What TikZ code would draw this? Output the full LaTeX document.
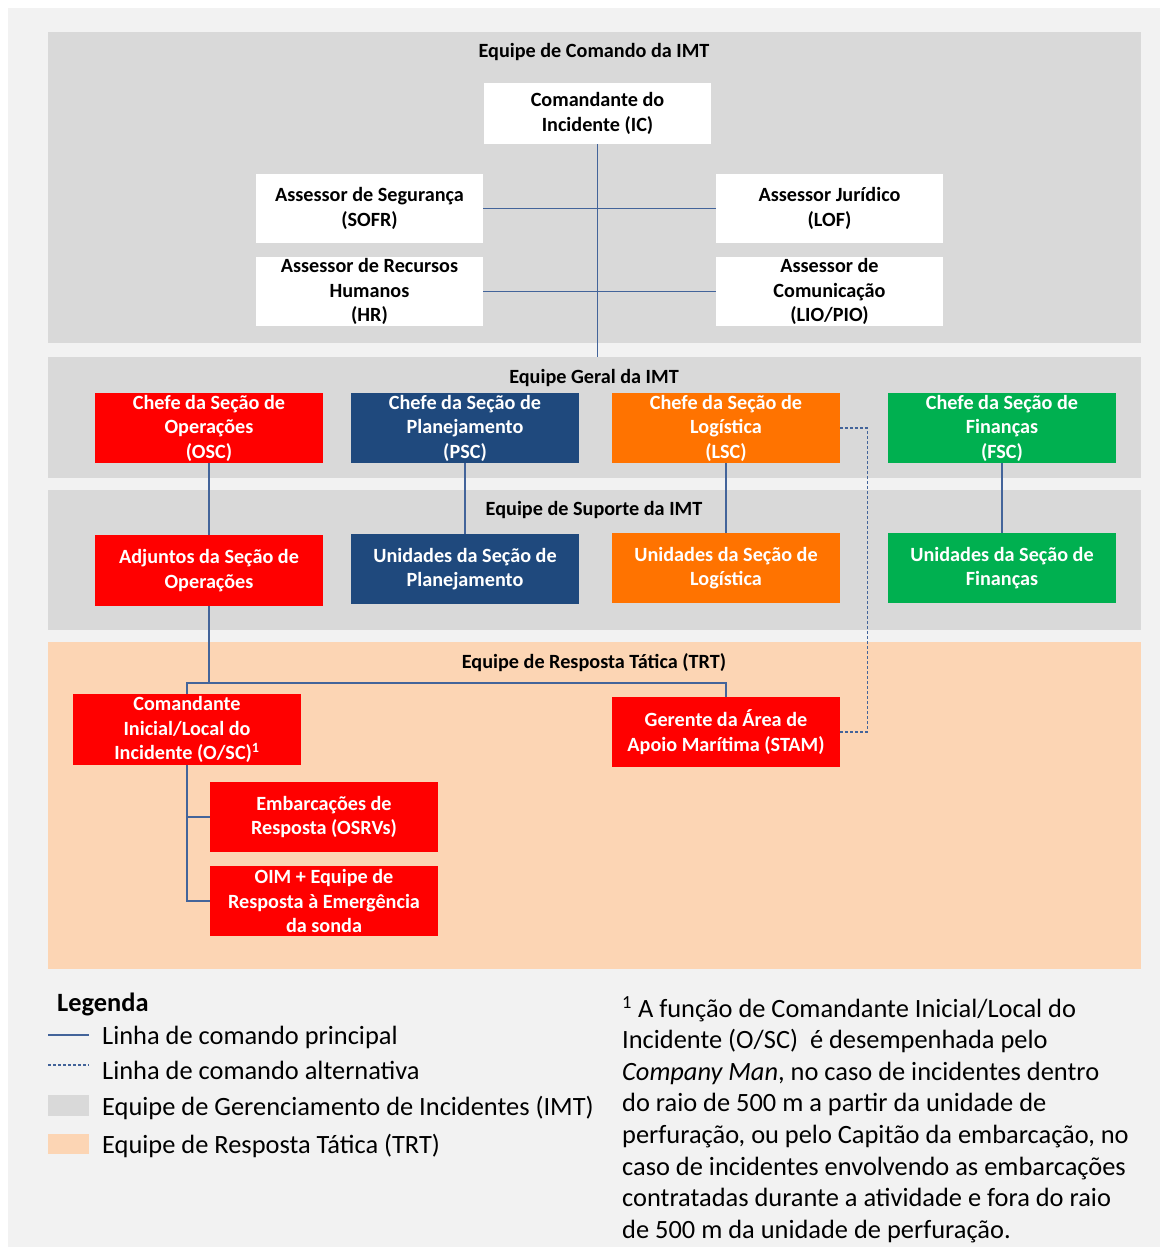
\documentclass[tikz,border=0pt]{standalone}
\usepackage{fontspec}
\setmainfont{Carlito}
\definecolor{pagebg}{HTML}{F2F2F2}
\definecolor{panelgray}{HTML}{D9D9D9}
\definecolor{peach}{HTML}{FCD5B4}
\definecolor{cred}{HTML}{FF0000}
\definecolor{cblue}{HTML}{1F497D}
\definecolor{corange}{HTML}{FF7300}
\definecolor{cgreen}{HTML}{00B050}
\definecolor{linecol}{HTML}{43649A}
\tikzset{
  panel/.style={fill=panelgray, draw=none, anchor=north west, inner sep=0pt},
  trtpanel/.style={fill=peach, draw=none, anchor=north west, inner sep=0pt},
  boxbase/.style={draw=none, inner sep=0pt, align=center, minimum width=228, minimum height=70,
    font=\fontsize{20.2}{24.5}\selectfont\bfseries},
  wbox/.style={boxbase, fill=white, text=black},
  cbox/.style={boxbase, fill=#1, text=white},
  ptitle/.style={font=\fontsize{20.2}{24}\selectfont\bfseries, inner sep=0pt},
  conn/.style={draw=linecol, line width=1.3pt},
  altconn/.style={draw=linecol, line width=1.1pt, dash pattern=on 3pt off 2pt},
  legtext/.style={font=\fontsize{26.4}{30}\selectfont, anchor=west, inner sep=0pt},
}
\begin{document}
\begin{tikzpicture}[x=1pt,y=-1pt]
\useasboundingbox (0,0) rectangle (1160,1247);
\fill[white] (0,0) rectangle (1160,1247);
\fill[pagebg] (8,8) rectangle (1160,1247);

% panels
\node[panel, minimum width=1093, minimum height=311] (pcmd) at (48,32) {};
\node[panel, minimum width=1093, minimum height=121] (pgeral) at (48,357) {};
\node[panel, minimum width=1093, minimum height=140] (psup) at (48,490) {};
\node[trtpanel, minimum width=1093, minimum height=327] (ptrt) at (48,642) {};

% panel titles
\node[ptitle] (tcmd) at (594,52) {Equipe de Comando da IMT};
\node[ptitle] (tgeral) at (594,378) {Equipe Geral da IMT};
\node[ptitle] (tsup) at (594,510) {Equipe de Suporte da IMT};
\node[ptitle] (ttrt) at (594,663) {Equipe de Resposta Tática (TRT)};

% command team
\node[wbox, minimum width=227, minimum height=61] (ic) at (597.5,113.5) {Comandante do\\Incidente (IC)};
\node[wbox, minimum width=227, minimum height=69] (sofr) at (369.5,208.5) {Assessor de Segurança\\(SOFR)};
\node[wbox, minimum width=227, minimum height=69] (lof) at (829.5,208.5) {Assessor Jurídico\\(LOF)};
\node[wbox, minimum width=227, minimum height=69] (hr) at (369.5,291.5) {Assessor de Recursos\\Humanos\\(HR)};
\node[wbox, minimum width=227, minimum height=69] (lio) at (829.5,291.5) {Assessor de\\Comunicação\\(LIO/PIO)};

% general team
\node[cbox=cred] (osc) at (209,428) {Chefe da Seção de\\Operações\\(OSC)};
\node[cbox=cblue] (psc) at (465,428) {Chefe da Seção de\\Planejamento\\(PSC)};
\node[cbox=corange] (lsc) at (726,428) {Chefe da Seção de\\Logística\\(LSC)};
\node[cbox=cgreen] (fsc) at (1002,428) {Chefe da Seção de\\Finanças\\(FSC)};

% support team
\node[cbox=cred, minimum height=71] (adj) at (209,570.5) {Adjuntos da Seção de\\Operações};
\node[cbox=cblue] (upl) at (465,569) {Unidades da Seção de\\Planejamento};
\node[cbox=corange] (ulog) at (726,568) {Unidades da Seção de\\Logística};
\node[cbox=cgreen] (ufin) at (1002,568) {Unidades da Seção de\\Finanças};

% TRT
\node[cbox=cred, minimum height=71] (osl) at (187,729.5) {Comandante\\Inicial/Local do\\Incidente (O/SC)\textsuperscript{1}};
\node[cbox=cred] (stam) at (726,732) {Gerente da Área de\\Apoio Marítima (STAM)};
\node[cbox=cred] (osrv) at (324,817) {Embarcações de\\Resposta (OSRVs)};
\node[cbox=cred] (oim) at (324,901) {OIM + Equipe de\\Resposta à Emergência\\da sonda};

% connectors
\coordinate (icdown) at (597.5,357);
\draw[conn] (ic.south) -- (icdown);
\draw[conn] (sofr.east) -- (lof.west);
\draw[conn] (hr.east) -- (lio.west);
\draw[conn] (osc.south) -- (adj.north);
\draw[conn] (psc.south) -- (upl.north);
\draw[conn] (lsc.south) -- (ulog.north);
\draw[conn] (fsc.south) -- (ufin.north);
\coordinate (tj) at (209,683);
\draw[conn] (adj.south) -- (tj);
\draw[conn] (osl.north) |- (tj) -| (stam.north);
\draw[conn] (osl.south) |- (osrv.west);
\draw[conn] (osl.south) |- (oim.west);
\draw[altconn] (lsc.east) -- ++(27,0) |- (stam.east);

% legend
\node[font=\fontsize{26.4}{30}\selectfont\bfseries, anchor=west, inner sep=0pt] (leg) at (57,1004) {Legenda};
\coordinate (l1a) at (48,1035); \coordinate (l1b) at (89,1035);
\draw[conn] (l1a) -- (l1b);
\node[legtext] (lt1) at (102,1037) {Linha de comando principal};
\coordinate (l2a) at (48,1065); \coordinate (l2b) at (89,1065);
\draw[altconn] (l2a) -- (l2b);
\node[legtext] (lt2) at (102,1070) {Linha de comando alternativa};
\fill[panelgray] (48,1095) rectangle (89,1116);
\node[legtext] (lt3) at (102,1108) {Equipe de Gerenciamento de Incidentes (IMT)};
\fill[peach] (48,1134) rectangle (89,1154);
\node[legtext] (lt4) at (102,1146) {Equipe de Resposta Tática (TRT)};

% footnote
\node[anchor=north west, inner sep=0pt, align=left, font=\fontsize{26.4}{31.6}\selectfont] (fn) at (622,996) {%
\textsuperscript{1} A função de Comandante Inicial/Local do\\
Incidente (O/SC)~ é desempenhada pelo\\
\textit{Company Man}, no caso de incidentes dentro\\
do raio de 500 m a partir da unidade de\\
perfuração, ou pelo Capitão da embarcação, no\\
caso de incidentes envolvendo as embarcações\\
contratadas durante a atividade e fora do raio\\
de 500 m da unidade de perfuração.};
\end{tikzpicture}
\end{document}
